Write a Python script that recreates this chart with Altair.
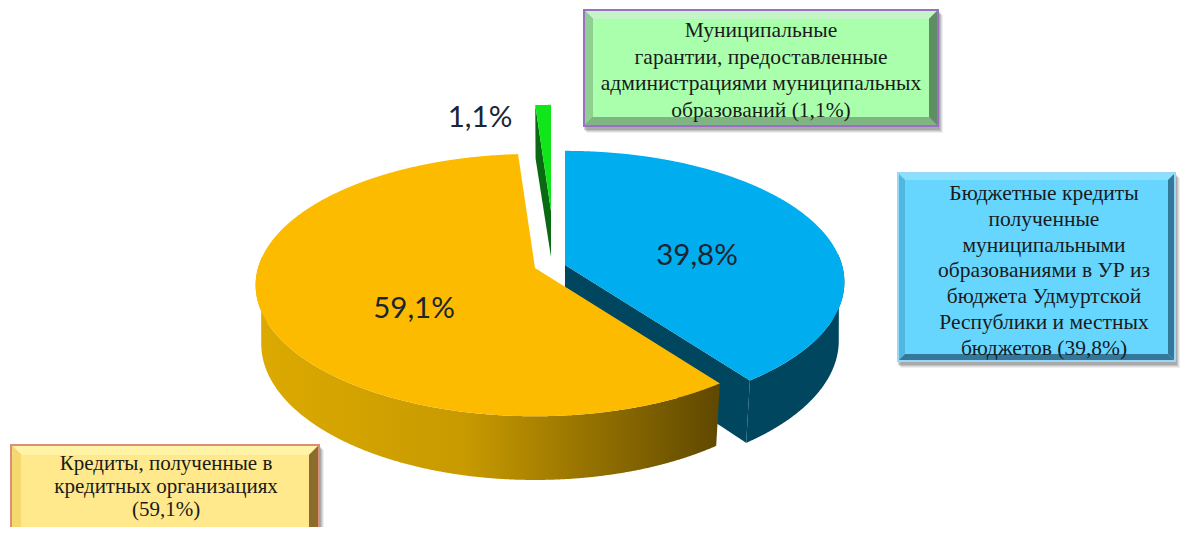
import math
import altair as alt
import pandas as pd

# ---- data ----
categories = ["Бюджетные кредиты", "Муниципальные гарантии", "Кредиты"]
shares = [39.8, 59.1, 1.1]
percent_labels = ["39,8%", "59,1%", "1,1%"]
green_lines = ["Муниципальные", "гарантии, предоставленные",
               "администрациями муниципальных", "образований (1,1%)"]
blue_lines = ["Бюджетные кредиты", "полученные", "муниципальными",
              "образованиями в УР из", "бюджета Удмуртской",
              "Республики и местных", "бюджетов  (39,8%)"]
yellow_lines = ["Кредиты, полученные в", "кредитных организациях", "(59,1%)"]

# ---- layout ----
W, H = 1172, 519
sx = alt.Scale(domain=[8, 1180], range=[0, W], nice=False, zero=False)
sy = alt.Scale(domain=[8, 527], range=[0, H], nice=False, zero=False)
RX, RY, K, DEPTH, SHRINK = 277, 129, 0.13, 58, 0.98


def rim(a, t, scale=1.0, lower=False):
    th = math.radians(t)
    u, v = math.cos(th), math.sin(th)
    p = 1 / (1 + K * u)
    x, y = scale * RX * v * p, -scale * RY * u * p
    if lower:
        return a[0] + SHRINK * x, a[1] + SHRINK * y + DEPTH * p
    return a[0] + x, a[1] + y


def low_apex(a, depth=DEPTH):
    return a[0], a[1] + depth


def arc(a, t0, t1, scale=1.0, lower=False):
    n = max(2, int(abs(t1 - t0)) + 1)
    return [rim(a, t0 + (t1 - t0) * i / (n - 1), scale, lower) for i in range(n)]


def envelope(poly, step=1.0):
    xs = sorted({p[0] for p in poly})
    lo, hi = xs[0], xs[-1]
    grid = set(xs)
    x = lo
    while x < hi:
        grid.add(x)
        x += step
    rows = []
    m = len(poly)
    for x in sorted(grid):
        ys = []
        for i in range(m):
            (x0, y0), (x1, y1) = poly[i], poly[(i + 1) % m]
            if min(x0, x1) <= x <= max(x0, x1):
                if x0 == x1:
                    ys += [y0, y1]
                else:
                    ys.append(y0 + (y1 - y0) * (x - x0) / (x1 - x0))
        if ys:
            rows.append({"x": x, "y": min(ys), "y2": max(ys)})
    return pd.DataFrame(rows)


def shape(poly, color, opacity=1.0, step=1.0):
    return alt.Chart(envelope(poly, step)).mark_area(
        color=color, opacity=opacity, interpolate="linear", strokeWidth=0
    ).encode(
        x=alt.X("x:Q", scale=sx, axis=None),
        y=alt.Y("y:Q", scale=sy, axis=None),
        y2="y2:Q",
    )


def rect_poly(x0, y0, x1, y1):
    return [(x0, y0), (x1, y0), (x1, y1), (x0, y1)]


def box(x0, y0, x1, y1, bev, border, light_t, light_l, dark_r, dark_b, fill):
    out = []
    for off, op in ((6, 0.10), (5, 0.14), (4, 0.2), (3, 0.25)):
        out.append(shape(rect_poly(x0 + off - 2, y0 + off, x1 + off - 2, y1 + off), "#606060", op, 20))
    out.append(shape(rect_poly(x0, y0, x1, y1), border, 1, 20))
    a0, b0, a1, b1 = x0 + 2, y0 + 2, x1 - 2, y1 - 2
    i0, j0, i1, j1 = a0 + bev, b0 + bev, a1 - bev, b1 - bev
    out.append(shape([(a0, b0), (a1, b0), (i1, j0), (i0, j0)], light_t, 1, 4))
    out.append(shape([(a0, b0), (i0, j0), (i0, j1), (a0, b1)], light_l, 1, 1))
    out.append(shape([(a1, b0), (a1, b1), (i1, j1), (i1, j0)], dark_r, 1, 1))
    out.append(shape([(a0, b1), (i0, j1), (i1, j1), (a1, b1)], dark_b, 1, 4))
    out.append(shape(rect_poly(i0, j0, i1, j1), fill, 1, 20))
    return out


one = pd.DataFrame({"a": [0]})


def label(lines, cx, top, font, size, lh, color="#1a1a1a"):
    return alt.Chart(one).mark_text(
        font=font, fontSize=size, lineHeight=lh, align="center", baseline="top", color=color
    ).encode(x=alt.value(cx - 8), y=alt.value(top - 8), text=alt.value(lines))


# ---- slice angles come from the values ----
blue_end = shares[0] * 3.6
yellow_end = blue_end + shares[1] * 3.6

A_B = (565, 265)
A_Y = (535, 268)
A_G = (551, 211)
GS = 0.93

layers = []

# blue wedge
tip = rim(A_B, blue_end)
tip_l = rim(A_B, blue_end, lower=True)
layers.append(shape([A_B, tip, tip_l, low_apex(A_B)], "#00465f"))
layers.append(shape(arc(A_B, 85, blue_end) + arc(A_B, blue_end, 85, lower=True), "#00465f"))
layers.append(shape([A_B] + arc(A_B, 0, blue_end), "#00aeef"))

# yellow wedge
grad = alt.Gradient(
    gradient="linear", x1=0, x2=1, y1=0, y2=0,
    stops=[alt.GradientStop(color="#dcaa00", offset=0),
           alt.GradientStop(color="#c89a00", offset=0.45),
           alt.GradientStop(color="#5f4800", offset=1)],
)
layers.append(shape(arc(A_Y, 275, blue_end) + arc(A_Y, blue_end, 275, lower=True), grad))
layers.append(shape([A_Y] + arc(A_Y, blue_end, yellow_end), "#fdbb00"))

# green wedge
g0 = rim(A_G, yellow_end, GS)
g1 = rim(A_G, 360, GS)
layers.append(shape([A_G, g0, rim(A_G, yellow_end, GS, True), low_apex(A_G, 46)], "#0a6a12"))
layers.append(shape([A_G, g0, g1], "#10e61a"))

# percent labels
layers.append(label([percent_labels[0]], 697, 242, "Lato", 29.5, 30, "#1c2533"))
layers.append(label([percent_labels[1]], 414, 295, "Lato", 29.5, 30, "#1c2533"))
layers.append(label([percent_labels[2]], 480, 104, "Lato", 29.5, 30, "#1c2533"))

# label boxes
layers += box(583, 9, 939, 127, 8, "#9a6fc4", "#c4f5c6", "#8fd092", "#5e8f62", "#7fb582", "#a9ffab")
layers += box(897, 172, 1176, 362, 6, "#9ad8f8", "#8be0ff", "#4fb8e0", "#33789a", "#33789a", "#66d6ff")
layers += box(10, 444, 320, 545, 9, "#d98f7c", "#fff3a6", "#f5d96f", "#8c6c2c", "#8c6c2c", "#ffe98c")
layers.append(label(green_lines, 761, 20, "Liberation Serif", 21.5, 26.5))
layers.append(label(blue_lines, 1044, 183, "Liberation Serif", 21.5, 25.8))
layers.append(label(yellow_lines, 166, 453, "Liberation Serif", 21, 23))

chart = alt.layer(*layers).properties(
    width=W, height=H, padding=0, background="white",
    autosize=alt.AutoSizeParams(type="none"),
).configure_view(stroke=None)

chart.save("out.html", embed_options={"renderer": "svg", "actions": False})
